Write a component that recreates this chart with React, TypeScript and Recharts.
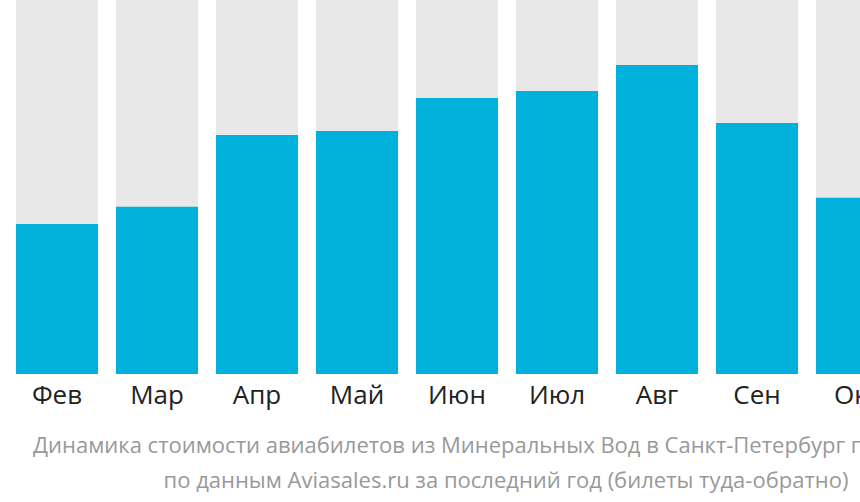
import { BarChart, Bar, XAxis, YAxis } from "recharts";

const months = ["Фев", "Мар", "Апр", "Май", "Июн", "Июл", "Авг", "Сен", "Окт"];
// bar heights relative to the full grey column (0..100)
const prices = [40.1, 44.7, 63.9, 65.0, 73.8, 75.7, 82.6, 67.1, 47.1];

const data = months.map((m, i) => ({ name: m, value: prices[i] }));

const MonthTick = (props: any) => {
  const { x, y, payload } = props;
  return (
    <text
      x={x}
      y={y + 28}
      textAnchor="middle"
      fill="#222"
      fontSize={26}
      fontFamily="'Open Sans', sans-serif"
    >
      {payload.value}
    </text>
  );
};

export default function App() {
  return (
    <div
      style={{
        position: "absolute",
        left: 0,
        top: 0,
        width: 860,
        height: 502,
        overflow: "hidden",
        background: "#fff",
        fontFamily: "'Open Sans', sans-serif",
      }}
    >
      <BarChart
        width={907}
        height={430}
        data={data}
        margin={{ top: 0, right: 0, left: 7, bottom: 0 }}
      >
        <XAxis
          dataKey="name"
          axisLine={false}
          tickLine={false}
          tickSize={0}
          height={56}
          tick={<MonthTick />}
          interval={0}
        />
        <YAxis hide domain={[0, 100]} />
        <Bar
          dataKey="value"
          fill="#02b0dc"
          barSize={82}
          background={{ fill: "#e8e8e8" }}
          isAnimationActive={false}
        />
      </BarChart>
      <div
        style={{
          position: "absolute",
          left: 33,
          top: 429,
          whiteSpace: "nowrap",
          fontSize: 22,
          color: "#999",
        }}
      >
        Динамика стоимости авиабилетов из Минеральных Вод в Санкт-Петербург по
      </div>
      <div
        style={{
          position: "absolute",
          left: 0,
          width: 1012,
          top: 464,
          textAlign: "center",
          whiteSpace: "nowrap",
          fontSize: 22,
          color: "#999",
        }}
      >
        по данным Aviasales.ru за последний год (билеты туда-обратно)
      </div>
    </div>
  );
}
